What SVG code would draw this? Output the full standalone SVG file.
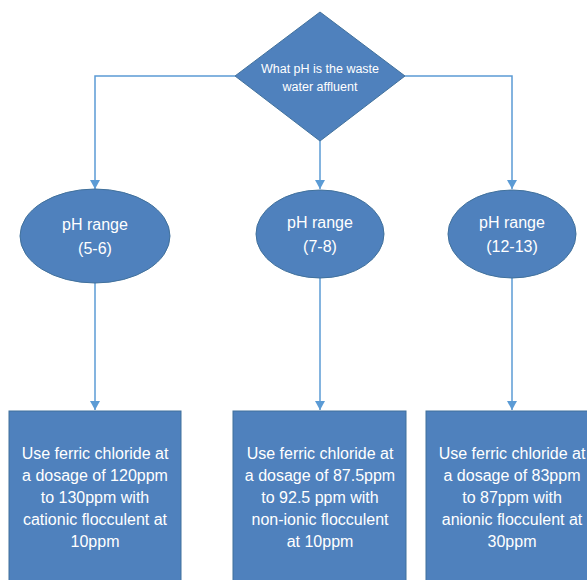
<svg xmlns="http://www.w3.org/2000/svg" width="587" height="580" viewBox="0 0 587 580">
<style>
.shape{fill:#4f81bd;stroke:#41719c;stroke-width:1}
.t{fill:#ffffff;font-family:"Liberation Sans",Arial,sans-serif;text-anchor:middle}
.s{font-size:12.5px}
.m{font-size:16px}
.c{fill:none;stroke:#5b9bd5;stroke-width:1.5}
</style>
<defs>
<marker id="ah" markerWidth="10" markerHeight="10" refX="9" refY="5" orient="auto" markerUnits="userSpaceOnUse">
<path d="M0,0 L9,5 L0,10 z" fill="#5b9bd5"/>
</marker>
</defs>
<rect width="587" height="580" fill="#ffffff"/>
<g id="connectors">
<path class="c" d="M235,76 H95 V189" marker-end="url(#ah)"/>
<path class="c" d="M320,141 V189" marker-end="url(#ah)"/>
<path class="c" d="M405,76 H512 V189" marker-end="url(#ah)"/>
<path class="c" d="M95,283 V410" marker-end="url(#ah)"/>
<path class="c" d="M320,278 V410" marker-end="url(#ah)"/>
<path class="c" d="M512,278 V410" marker-end="url(#ah)"/>
</g>
<g id="decision">
<polygon class="shape" points="320,12 405,76 320,141 235,76"/>
<text class="t s" x="320" y="73">What pH is the waste</text>
<text class="t s" x="320" y="91">water affluent</text>
</g>
<g id="range1">
<ellipse class="shape" cx="95" cy="236" rx="75" ry="47"/>
<text class="t m" x="95" y="230">pH range</text>
<text class="t m" x="95" y="254">(5-6)</text>
</g>
<g id="range2">
<ellipse class="shape" cx="320" cy="234" rx="64" ry="44"/>
<text class="t m" x="320" y="228">pH range</text>
<text class="t m" x="320" y="252">(7-8)</text>
</g>
<g id="range3">
<ellipse class="shape" cx="512" cy="234" rx="64" ry="44"/>
<text class="t m" x="512" y="228">pH range</text>
<text class="t m" x="512" y="252">(12-13)</text>
</g>
<g id="dose1">
<rect class="shape" x="9" y="411" width="172" height="175"/>
<text class="t m" x="95" y="459">Use ferric chloride at</text>
<text class="t m" x="95" y="481">a dosage of 120ppm</text>
<text class="t m" x="95" y="503">to 130ppm with</text>
<text class="t m" x="95" y="525">cationic flocculent at</text>
<text class="t m" x="95" y="547">10ppm</text>
</g>
<g id="dose2">
<rect class="shape" x="233" y="411" width="173" height="175"/>
<text class="t m" x="320" y="459">Use ferric chloride at</text>
<text class="t m" x="320" y="481">a dosage of 87.5ppm</text>
<text class="t m" x="320" y="503">to 92.5 ppm with</text>
<text class="t m" x="320" y="525">non-ionic flocculent</text>
<text class="t m" x="320" y="547">at 10ppm</text>
</g>
<g id="dose3">
<rect class="shape" x="426" y="411" width="172" height="175"/>
<text class="t m" x="512" y="459">Use ferric chloride at</text>
<text class="t m" x="512" y="481">a dosage of 83ppm</text>
<text class="t m" x="512" y="503">to 87ppm with</text>
<text class="t m" x="512" y="525">anionic flocculent at</text>
<text class="t m" x="512" y="547">30ppm</text>
</g>
</svg>
